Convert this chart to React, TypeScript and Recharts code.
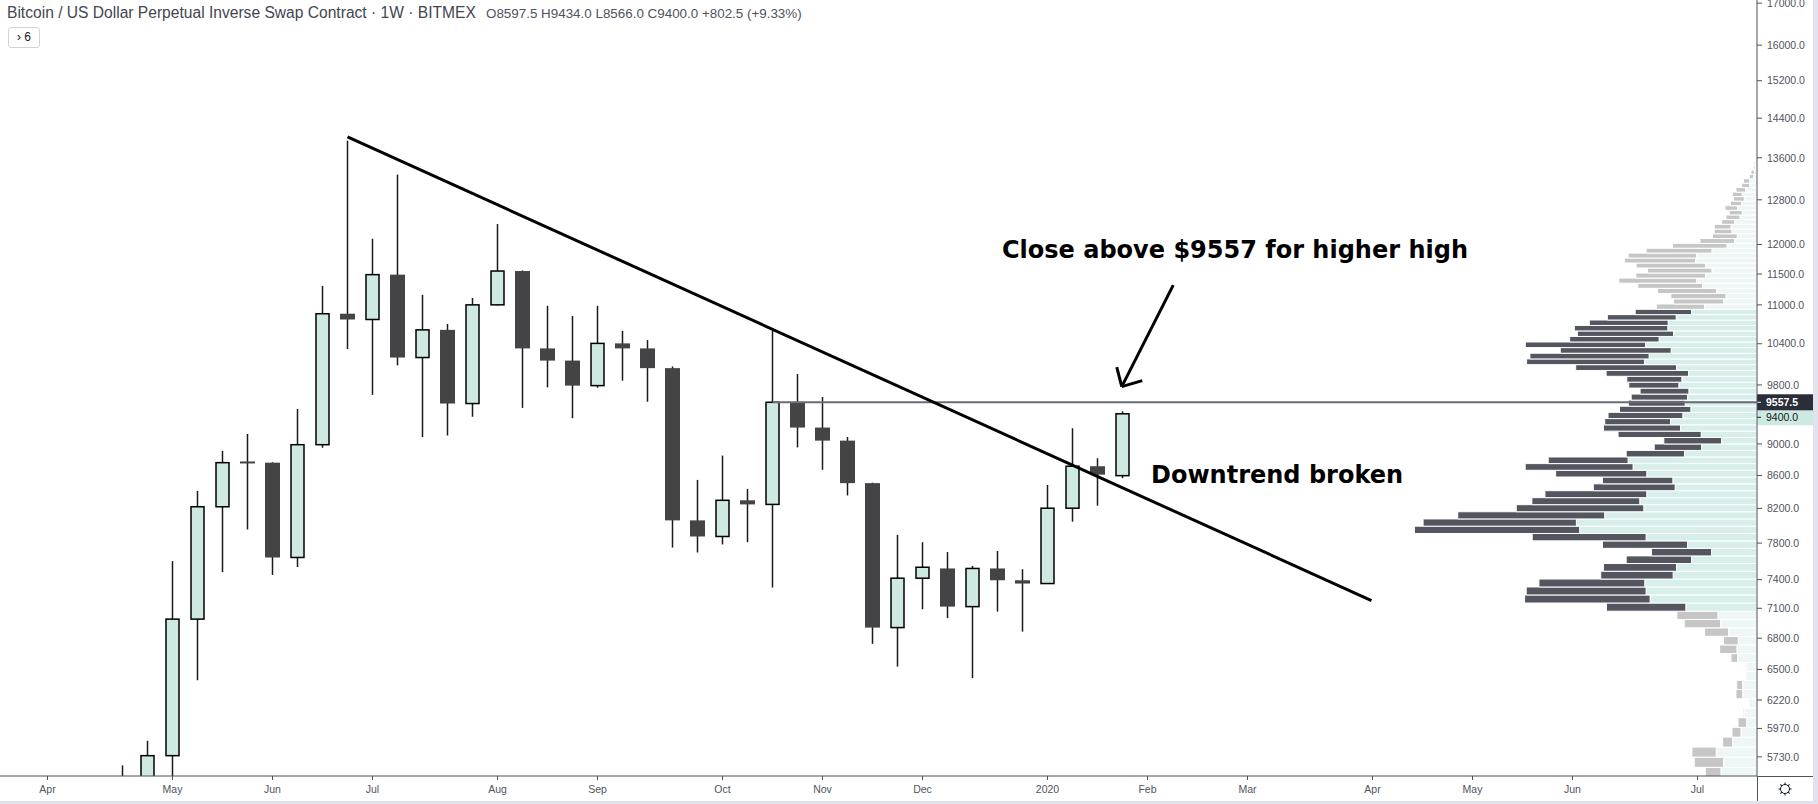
import React from "react";
import {
  Bar,
  ComposedChart,
  ReferenceArea,
  ReferenceLine,
  XAxis,
  YAxis,
} from "recharts";

// weekly candles, week index counted from the week of 1 Apr 2019
const firstWeek = 3;
const opens = [
  5290, 5200, 5740, 6990, 8220, 8765, 8760, 7640, 8990, 10860, 10770, 11490,
  10195, 10610, 9540, 11000, 11550, 10330, 10150, 9790, 10405, 10330, 10040,
  8060, 7875, 8297, 8248, 9557.5, 9215, 9043, 8505, 6905, 7415, 7520, 7117,
  7520, 7393, 7358, 8203, 8715, 8597.5,
];
const highs = [
  5660, 5865, 7600, 8410, 8910, 9130, 8765, 9465, 11305, 13940, 12100, 13275,
  11160, 10700, 11110, 12360, 11560, 10985, 10825, 10985, 10595, 10455, 10065,
  8545, 8850, 8435, 10595, 9955, 9630, 9090, 8510, 7893, 7810, 7700, 7548,
  7712, 7512, 8483, 9206, 8816, 9434,
];
const lows = [
  5080, 5150, 5560, 6400, 7480, 7955, 7450, 7535, 8950, 10320, 9660, 10080,
  9090, 9110, 9360, 10990, 9480, 9765, 9340, 9760, 9860, 9565, 7750, 7695,
  7785, 7810, 7315, 8955, 8670, 8355, 6745, 6527, 7090, 7000, 6420, 7066,
  6865, 7355, 8045, 8233, 8566,
];
const closes = [
  5200, 5740, 6990, 8220, 8760, 8760, 7640, 8990, 10860, 10770, 11490, 10195,
  10610, 9540, 11000, 11550, 10330, 10150, 9790, 10405, 10330, 10040, 8060,
  7875, 8297, 8248, 9557.5, 9215, 9043, 8505, 6905, 7415, 7533, 7117, 7520,
  7393, 7358, 8203, 8715, 8610, 9400,
];

const monthWeeks = [0, 5, 9, 13, 18, 22, 27, 31, 35, 40, 44, 48, 53, 57, 61, 66];
const monthLabels = [
  "Apr", "May", "Jun", "Jul", "Aug", "Sep", "Oct", "Nov", "Dec",
  "2020", "Feb", "Mar", "Apr", "May", "Jun", "Jul",
];

const priceTicks = [
  5730, 5970, 6220, 6500, 6800, 7100, 7400, 7800, 8200, 8600, 9000, 9800,
  10400, 11000, 11500, 12000, 12800, 13600, 14400, 15200, 16000, 17000,
];

// volume profile (visible range), 100 rows from bottom to top
const profileLow = 5560;
const profileHigh = 13950;
const valueAreaRows = [18, 63];
const profileDown = [
  15.7, 29.3, 24.3, 10, 9, 8.7, 1, 0, 6.7, 6, 1, 1, 6.7, 17.3, 14.7, 24, 36.3,
  41, 79.3, 125.3, 119.7, 105.7, 72.3, 73, 65.3, 60, 85, 113.7, 165, 153, 146.7,
  127.3, 107.7, 101.7, 81.7, 70.3, 91, 107.7, 79.7, 58.3, 47.3, 57.7, 83, 77,
  65.7, 74.7, 71.3, 56.7, 56.3, 48.7, 50, 55, 82.3, 100.7, 117.7, 119, 110.7,
  120, 89.3, 96, 93.3, 78.7, 68.7, 56.3, 48.3, 50, 55, 59, 64.7, 77.7, 69.7,
  64.3, 69.3, 71, 68.3, 65.7, 54.3, 34.7, 24.7, 17.7, 16.7, 13, 14, 13, 12.7,
  11.3, 11, 10, 9.7, 8, 6.3, 4.3, 3.3, 1.7, 1.3, 1, 1, 0.8, 0.8, 0.6,
];
const profileUp = [
  36, 33.3, 40.7, 24.3, 16, 10.3, 13, 8, 14.3, 14.3, 10.7, 10.3, 19.3, 20, 18.7,
  28.3, 36.3, 39, 71, 106.7, 110.7, 112, 83.7, 80.3, 65.3, 45.3, 69.3, 110.7,
  177, 180.3, 152, 113, 117, 110, 81.7, 84, 110, 123.7, 128.7, 72.3, 55.3, 35.3,
  55.7, 76.3, 86.3, 74, 66, 71.7, 69.3, 68, 78, 75, 68.3, 80.3, 112.3, 107.7,
  85.7, 111.3, 97.7, 83.3, 89, 88.7, 80.7, 65.3, 52.3, 33.3, 31, 40.3, 54.3,
  60.3, 51.3, 45, 51.3, 61.3, 60.3, 45, 30, 22.3, 19.7, 25, 26, 22.3, 17, 14.7,
  19.3, 15.3, 12.7, 14.7, 11.3, 7.3, 7.3, 3.3, 2.7, 2, 2, 1.5, 1.2, 1, 1, 0.8,
];

const lastPrice = 9400;
const resistance = 9557.5;

const rowStep = (profileHigh - profileLow) / profileDown.length;
const maxRow = Math.max(...profileDown.map((d, i) => d + profileUp[i]));
const volumeAxisMax = maxRow / 0.195;

const chartData = Array.from({ length: 69 }, (_, k) => {
  const week = k - 1;
  const i = week - firstWeek;
  if (i < 0 || i >= opens.length) return { week };
  return {
    week,
    range: [lows[i], highs[i]],
    open: opens[i],
    high: highs[i],
    low: lows[i],
    close: closes[i],
  };
});

const font = '"Liberation Sans", Arial, sans-serif';
const axisColor = "#50535e";

function Candle(props: any) {
  const { x, y, width, height, payload } = props;
  if (!payload || payload.open == null) return null;
  if (!isFinite(y) || !isFinite(height)) return null;
  const top = Math.min(y, y + height);
  const bottom = Math.max(y, y + height);
  const lnH = Math.log(payload.high);
  const lnL = Math.log(payload.low);
  const yOf = (v: number) => top + ((bottom - top) * (lnH - Math.log(v))) / (lnH - lnL);
  const up = payload.close >= payload.open;
  const cx = x + width / 2;
  let bTop = yOf(Math.max(payload.open, payload.close));
  let bBot = yOf(Math.min(payload.open, payload.close));
  if (bBot - bTop < 2) {
    const m = (bTop + bBot) / 2;
    bTop = m - 1;
    bBot = m + 1;
  }
  return (
    <g>
      <line x1={cx} x2={cx} y1={top} y2={bottom} stroke="#1a1a1a" strokeWidth={1.5} />
      {up ? (
        <rect x={cx - 6.5} y={bTop} width={13} height={bBot - bTop} fill="#cde9e1" stroke="#000" strokeWidth={1.5} />
      ) : (
        <rect x={cx - 7.5} y={bTop} width={15} height={bBot - bTop} fill="#444446" />
      )}
    </g>
  );
}

function PriceTag(props: any) {
  const { viewBox, text, fill, color, dy = 0, bold } = props;
  if (!viewBox) return null;
  const x = viewBox.x + viewBox.width;
  const y = viewBox.y + dy;
  return (
    <g>
      <rect x={x} y={y - 8} width={56} height={16} fill={fill} />
      <line x1={x} x2={x + 4} y1={y} y2={y} stroke={color} strokeWidth={1} />
      <text x={x + 9} y={y} dy="0.36em" fill={color} fontSize={10.5} fontFamily={font} fontWeight={bold ? 700 : 400}>
        {text}
      </text>
    </g>
  );
}

export default function App() {
  return (
    <div style={{ position: "absolute", left: 0, top: 0, width: 1818, height: 804, background: "#e0e3eb", overflow: "hidden", fontFamily: font }}>
      <div style={{ position: "absolute", left: 0, top: 0, width: 1813, height: 801, background: "#fff" }}>
        <ComposedChart width={1813} height={801} data={chartData} margin={{ top: 0, right: 0, bottom: 0, left: 0 }}>
          <XAxis
            xAxisId="t"
            dataKey="week"
            type="number"
            domain={[-1.9, 68.38]}
            allowDataOverflow
            ticks={monthWeeks}
            interval={0}
            tickFormatter={(w: number) => monthLabels[monthWeeks.indexOf(w)] ?? ""}
            height={25}
            tickSize={4}
            tickMargin={6}
            stroke={axisColor}
            tick={{ fill: axisColor, fontSize: 10.5, fontFamily: font }}
          />
          <XAxis xAxisId="cat" dataKey="week" hide height={0} padding={{ left: 10, right: 22 }} />
          <XAxis xAxisId="vol" dataKey="volume" type="number" hide height={0} reversed domain={[0, volumeAxisMax]} allowDataOverflow />
          <YAxis
            orientation="right"
            scale="log"
            type="number"
            domain={[5574, 17077]}
            allowDataOverflow
            ticks={priceTicks}
            interval={0}
            width={56}
            tickSize={5}
            tickMargin={5}
            stroke={axisColor}
            tickFormatter={(v: number) => v.toFixed(1)}
            tick={{ fill: axisColor, fontSize: 10.5, fontFamily: font }}
          />

          {profileDown.map((down, k) => {
            const inVA = k >= valueAreaRows[0] && k <= valueAreaRows[1];
            const lo = profileLow + k * rowStep;
            const hi = lo + rowStep;
            const up = profileUp[k];
            return (
              <React.Fragment key={`row-${k}`}>
                <ReferenceArea
                  xAxisId="vol"
                  x1={0}
                  x2={up}
                  y1={lo}
                  y2={hi}
                  fill={inVA ? "#d8eeea" : "#eef7f5"}
                  fillOpacity={1}
                  stroke="#fff"
                  strokeWidth={1}
                  ifOverflow="hidden"
                />
                {down > 0 && (
                  <ReferenceArea
                    xAxisId="vol"
                    x1={up}
                    x2={up + down}
                    y1={lo}
                    y2={hi}
                    fill={inVA ? "#53565f" : "#c6c6c6"}
                    fillOpacity={1}
                    stroke="#fff"
                    strokeWidth={1}
                    ifOverflow="hidden"
                  />
                )}
              </React.Fragment>
            );
          })}

          <Bar xAxisId="cat" dataKey="range" barSize={15} shape={<Candle />} isAnimationActive={false} />

          <ReferenceLine
            xAxisId="t"
            segment={[{ x: 29, y: resistance }, { x: 68.38, y: resistance }]}
            stroke="#696c75"
            strokeWidth={2}
            ifOverflow="visible"
          />
          <ReferenceLine
            xAxisId="t"
            segment={[{ x: 12, y: 14017 }, { x: 52.96, y: 7180 }]}
            stroke="#000"
            strokeWidth={3}
            ifOverflow="visible"
          />
          <ReferenceLine xAxisId="t" segment={[{ x: 45.03, y: 11318 }, { x: 42.97, y: 9776 }]} stroke="#000" strokeWidth={3} ifOverflow="visible" />
          <ReferenceLine xAxisId="t" segment={[{ x: 42.77, y: 10054 }, { x: 42.97, y: 9776 }]} stroke="#000" strokeWidth={3} ifOverflow="visible" />
          <ReferenceLine xAxisId="t" segment={[{ x: 43.79, y: 9861 }, { x: 42.97, y: 9776 }]} stroke="#000" strokeWidth={3} ifOverflow="visible" />

          <ReferenceLine
            xAxisId="t"
            y={lastPrice}
            stroke="none"
            ifOverflow="visible"
            label={<PriceTag text={lastPrice.toFixed(1)} fill="#cde9e1" color="#131722" dy={3.5} />}
          />
          <ReferenceLine
            xAxisId="t"
            y={resistance}
            stroke="none"
            ifOverflow="visible"
            label={<PriceTag text={resistance.toFixed(1)} fill="#2a2e39" color="#fff" bold />}
          />
        </ComposedChart>

        <svg width={1813} height={801} style={{ position: "absolute", left: 0, top: 0, pointerEvents: "none" }}>
          <text x={1002} y={258} fontFamily="DejaVu Sans" fontWeight={700} fontSize={24} fill="#000">
            Close above $9557 for higher high
          </text>
          <text x={1151} y={483} fontFamily="DejaVu Sans" fontWeight={700} fontSize={24} fill="#000">
            Downtrend broken
          </text>
          <line x1={1757.5} x2={1757.5} y1={776} y2={801} stroke={axisColor} />
          <line x1={1757} x2={1813} y1={776.5} y2={776.5} stroke={axisColor} />
          <g transform="translate(1785 789)" stroke="#131722" strokeWidth={1} fill="none">
            <circle r={4.5} />
            {[0, 45, 90, 135, 180, 225, 270, 315].map((a) => (
              <line key={a} x1={0} y1={-4.5} x2={0} y2={-6.5} transform={`rotate(${a})`} />
            ))}
          </g>
        </svg>

        <div style={{ position: "absolute", left: 7, top: 3, fontSize: 15.6, lineHeight: "19px", color: "#434651", whiteSpace: "nowrap" }}>
          Bitcoin / US Dollar Perpetual Inverse Swap Contract · 1W · BITMEX
        </div>
        <div style={{ position: "absolute", left: 486, top: 5, fontSize: 13.4, lineHeight: "17px", color: "#50535e", whiteSpace: "nowrap" }}>
          O8597.5 H9434.0 L8566.0 C9400.0 +802.5 (+9.33%)
        </div>
        <div
          style={{
            position: "absolute",
            left: 8,
            top: 27,
            width: 30,
            height: 19,
            border: "1px solid #d1d4dc",
            borderRadius: 3,
            fontSize: 12,
            lineHeight: "19px",
            textAlign: "center",
            color: "#131722",
          }}
        >
          › 6
        </div>
      </div>
    </div>
  );
}
